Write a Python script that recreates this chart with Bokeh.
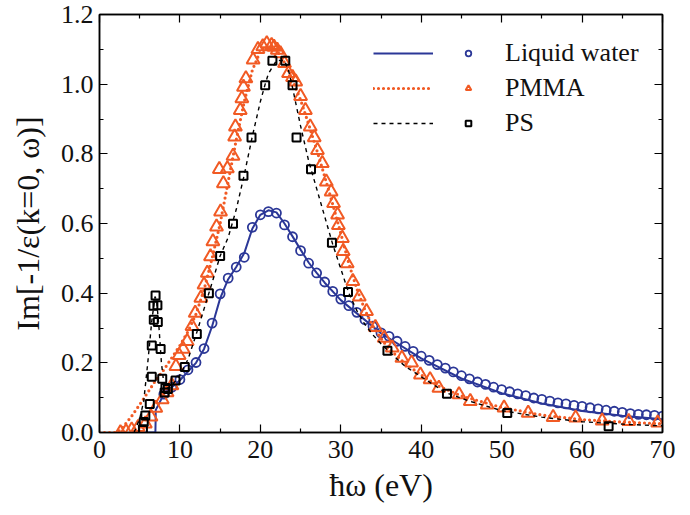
from bokeh.plotting import figure
from bokeh.models import (Range1d, LinearAxis, FixedTicker, Legend, LegendItem,
                          CustomJSTickFormatter)
from bokeh.embed import file_html
from bokeh.resources import INLINE

# ---------------- data ----------------
x_ticks = [0, 10, 20, 30, 40, 50, 60, 70]
x_minor = [5, 15, 25, 35, 45, 55, 65]
y_ticks = [0.0, 0.2, 0.4, 0.6, 0.8, 1.0, 1.2]
y_minor = [0.1, 0.3, 0.5, 0.7, 0.9, 1.1]
y_tick_labels = {0.0: "0.0", 0.2: "0.2", 0.4: "0.4", 0.6: "0.6", 0.8: "0.8", 1.0: "1.0", 1.2: "1.2"}

water_line_x = [4.5, 6.95, 7.0, 8, 9, 10, 11, 12, 13, 14, 15, 16, 17, 18, 19, 20, 21, 22, 23, 24,
                25, 26, 27, 28, 30, 32, 35, 40, 45, 50, 55, 60, 65, 70]
water_line_y = [0, 0, 0.065, 0.11, 0.13, 0.15, 0.175, 0.2, 0.24, 0.305, 0.385, 0.44, 0.475, 0.515,
                0.585, 0.625, 0.638, 0.632, 0.6, 0.563, 0.525, 0.488, 0.458, 0.43, 0.38, 0.342,
                0.285, 0.213, 0.155, 0.113, 0.083, 0.062, 0.048, 0.038]

water_pts_x = list(range(8, 71))
water_pts_y = [0.11, 0.13, 0.152, 0.18, 0.201, 0.241, 0.314, 0.398, 0.443, 0.475, 0.503, 0.589,
               0.625, 0.634, 0.63, 0.596, 0.562, 0.522, 0.486, 0.458, 0.432, 0.405, 0.383, 0.364,
               0.345, 0.324, 0.305, 0.286, 0.276, 0.262, 0.247, 0.233, 0.219, 0.207, 0.195, 0.185,
               0.174, 0.163, 0.154, 0.145, 0.138, 0.130, 0.123, 0.117, 0.111, 0.106, 0.099, 0.095,
               0.090, 0.085, 0.082, 0.078, 0.075, 0.071, 0.068, 0.064, 0.061, 0.058, 0.054, 0.052,
               0.051, 0.049, 0.047]

pmma_line_x = [0, 2, 2.5, 3, 4, 5, 6, 7, 8, 9, 10, 11, 12, 13, 14, 15, 16, 17, 18, 19, 20, 21,
               22, 23, 24, 25, 26, 27, 28, 29, 30, 31, 32, 33, 34, 35, 36, 38, 40, 42, 45, 50, 55,
               60, 65, 70]
pmma_line_y = [0, 0, 0.005, 0.018, 0.047, 0.08, 0.115, 0.15, 0.18, 0.215, 0.25, 0.29, 0.34, 0.41,
               0.5, 0.6, 0.72, 0.84, 0.95, 1.04, 1.095, 1.112, 1.098, 1.062, 1.012, 0.955, 0.885,
               0.812, 0.735, 0.655, 0.572, 0.485, 0.412, 0.352, 0.305, 0.27, 0.24, 0.198, 0.165,
               0.135, 0.105, 0.072, 0.05, 0.037, 0.03, 0.025]

pmma_pts_x = [2.6, 3.3, 4.0, 4.8, 5.7, 6.4, 7.0, 7.8, 8.4, 9.0, 9.5, 9.9, 10.4, 10.9, 11.5, 11.9,
              12.6, 13.0, 13.4, 13.8, 14.1, 14.55, 15.05, 15.4, 14.9, 15.9, 16.6, 16.8, 16.9, 17.5,
              17.7, 17.9, 18.2, 19.1, 19.7, 20.3, 20.8, 21.4, 21.7, 22.1, 22.5, 23.0, 23.5, 24.0,
              24.4, 25.0, 25.6, 26.2, 26.7, 27.1, 27.7, 28.2, 28.8, 29.1, 29.6, 29.7, 30.2, 30.3,
              30.8, 31.5, 32.3, 33.2, 34.3, 35.4, 36.4, 37.6, 38.8, 39.9, 41.1, 42.2, 44.7, 46.1,
              48.2, 50.3, 53.3, 56.4, 59.2, 62.5, 65.8, 69.4]
pmma_pts_y = [0.0, 0.003, 0.008, 0.015, 0.025, 0.045, 0.07, 0.095, 0.115, 0.135, 0.19, 0.222,
              0.24, 0.262, 0.305, 0.343, 0.386, 0.424, 0.458, 0.505, 0.548, 0.591, 0.634, 0.715,
              0.756, 0.758, 0.794, 0.849, 0.878, 0.925, 0.959, 0.992, 1.016, 1.07, 1.10, 1.108,
              1.117, 1.112, 1.107, 1.098, 1.088, 1.06, 1.031, 1.02, 1.007, 0.965, 0.925, 0.878,
              0.847, 0.81, 0.773, 0.72, 0.691, 0.658, 0.625, 0.595, 0.558, 0.52, 0.485, 0.434,
              0.39, 0.348, 0.302, 0.271, 0.243, 0.214, 0.2, 0.166, 0.152, 0.128, 0.109, 0.09,
              0.08, 0.071, 0.056, 0.044, 0.042, 0.034, 0.032, 0.028]

ps_line_x = [4.3, 5.0, 5.5, 6.0, 6.5, 6.9, 7.1, 7.4, 7.7, 8.0, 8.3, 9, 10, 11, 12, 13, 14, 15,
             16, 17, 18, 19, 20, 20.6, 21, 22, 23, 23.5, 24, 25, 26, 27, 28, 29, 30, 31, 32, 33,
             34, 35, 36, 38, 40, 43, 46, 50, 55, 60, 65, 70]
ps_line_y = [0, 0.04, 0.09, 0.2, 0.32, 0.39, 0.38, 0.3, 0.2, 0.14, 0.125, 0.135, 0.165, 0.21,
             0.28, 0.355, 0.43, 0.507, 0.56, 0.64, 0.74, 0.85, 0.95, 1.0, 1.03, 1.068, 1.068,
             1.04, 0.99, 0.88, 0.78, 0.7, 0.62, 0.54, 0.47, 0.4, 0.35, 0.31, 0.28, 0.255, 0.232,
             0.19, 0.16, 0.115, 0.09, 0.063, 0.044, 0.031, 0.024, 0.019]

ps_pts_x = [5.4, 5.5, 5.7, 6.25, 6.5, 6.5, 6.75, 6.7, 6.97, 7.2, 7.25, 7.6, 7.8, 8.1, 8.2, 8.5,
            9.45, 10.6, 12.1, 13.6, 15.0, 16.6, 17.9, 18.9, 20.6, 21.5, 23.1, 24.0, 24.5, 26.3,
            28.9, 30.9, 35.8, 43.2, 50.7, 63.3]
ps_pts_y = [0.009, 0.03, 0.049, 0.082, 0.16, 0.25, 0.324, 0.364, 0.393, 0.365, 0.317, 0.24,
            0.154, 0.115, 0.128, 0.125, 0.149, 0.188, 0.283, 0.40, 0.507, 0.599, 0.737, 0.847,
            0.997, 1.067, 1.067, 0.997, 0.847, 0.756, 0.545, 0.403, 0.235, 0.111, 0.056, 0.018]

series_labels = ["Liquid water", "PMMA", "PS"]

BLUE = "#2B3797"
ORANGE = "#F15A24"
BLACK = "#000000"
FONT = "'Liberation Serif', 'Times New Roman', serif"

# ---------------- figure ----------------
p = figure(width=680, height=505, output_backend="svg", toolbar_location=None,
           x_range=Range1d(0, 70), y_range=Range1d(0, 1.2),
           min_border_left=99, min_border_right=18, min_border_top=14, min_border_bottom=72,
           x_axis_label="ħω (eV)", y_axis_label="Im[-1/ε(k=0, ω)]")
p.grid.visible = False
p.outline_line_color = BLACK
p.outline_line_width = 1.5
p.background_fill_color = "white"
p.border_fill_color = "white"

p.xaxis.ticker = FixedTicker(ticks=x_ticks, minor_ticks=x_minor)
p.yaxis.ticker = FixedTicker(ticks=y_ticks, minor_ticks=y_minor)
p.yaxis.major_label_overrides = y_tick_labels

for ax in (p.xaxis[0], p.yaxis[0]):
    ax.axis_line_color = BLACK
    ax.axis_line_width = 1.5
    ax.major_tick_in = 8
    ax.major_tick_out = 0
    ax.minor_tick_in = 4
    ax.minor_tick_out = 0
    ax.major_tick_line_color = BLACK
    ax.minor_tick_line_color = BLACK
    ax.major_tick_line_width = 1.2
    ax.minor_tick_line_width = 1.2
    ax.major_label_text_font = FONT
    ax.major_label_text_font_size = "26px"
    ax.major_label_text_color = "#111111"
    ax.axis_label_text_font = FONT
    ax.axis_label_text_font_size = "32px"
    ax.axis_label_text_font_style = "normal"
    ax.axis_label_text_color = "#111111"
p.xaxis.major_label_standoff = 8
p.yaxis.major_label_standoff = 6
p.xaxis.axis_label_standoff = 6
p.yaxis.axis_label_standoff = 12

# mirror axes (ticks only) on top and right
blank = CustomJSTickFormatter(code="return ''")
top_ax = LinearAxis(ticker=FixedTicker(ticks=x_ticks, minor_ticks=x_minor),
                    formatter=blank, major_label_standoff=0)
right_ax = LinearAxis(ticker=FixedTicker(ticks=y_ticks, minor_ticks=y_minor),
                      formatter=blank, major_label_standoff=0)
for ax in (top_ax, right_ax):
    ax.axis_line_color = BLACK
    ax.axis_line_width = 1.5
    ax.major_tick_in = 8
    ax.major_tick_out = 0
    ax.minor_tick_in = 4
    ax.minor_tick_out = 0
    ax.major_tick_line_width = 1.2
    ax.minor_tick_line_width = 1.2
p.add_layout(top_ax, "above")
p.add_layout(right_ax, "right")

# ---------------- series ----------------
l_w = p.line(water_line_x, water_line_y, line_color=BLUE, line_width=2)
s_w = p.scatter(water_pts_x, water_pts_y, marker="circle", size=9, fill_color=None,
                line_color=BLUE, line_width=1.8)

l_p = p.line(pmma_line_x, pmma_line_y, line_color=ORANGE, line_width=3.2,
             line_dash="0 5", line_cap="round")
s_p = p.scatter(pmma_pts_x, pmma_pts_y, marker="triangle", size=13, fill_color=None,
                line_color=ORANGE, line_width=2)

l_s = p.line(ps_line_x, ps_line_y, line_color=BLACK, line_width=1.4, line_dash="4 4")
s_s = p.scatter(ps_pts_x, ps_pts_y, marker="square", size=8, fill_color=None,
                line_color=BLACK, line_width=2)

# ---------------- legends ----------------
common = dict(border_line_color=None, background_fill_alpha=0, padding=0, margin=0,
              spacing=3, label_text_font=FONT, label_text_font_size="26px",
              label_text_color="#111111", label_height=32, glyph_height=32)
leg_lines = Legend(items=[LegendItem(label=" ", renderers=[r]) for r in (l_w, l_p, l_s)],
                   location=(274, 293), glyph_width=60, label_standoff=0, **common)
leg_marks = Legend(items=[LegendItem(label=t, renderers=[r])
                          for t, r in zip(series_labels, (s_w, s_p, s_s))],
                   location=(362, 293), glyph_width=14, label_standoff=30, **common)
p.add_layout(leg_lines)
p.add_layout(leg_marks)

open("out.html", "w").write(file_html(p, INLINE))
